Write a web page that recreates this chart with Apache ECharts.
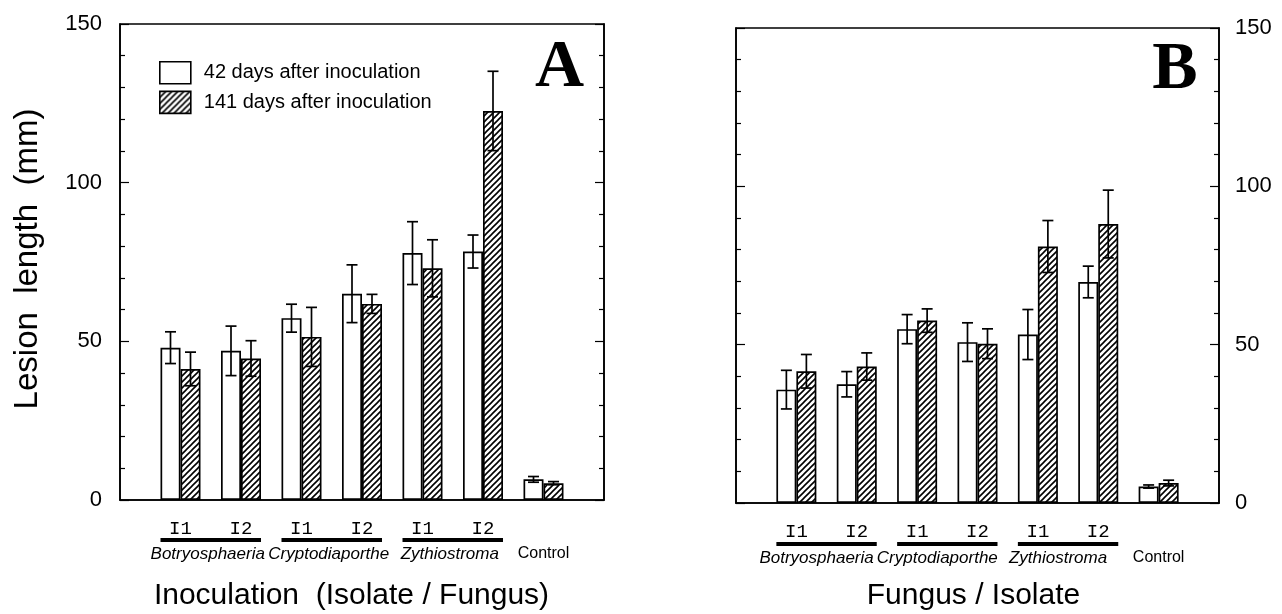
<!DOCTYPE html>
<html><head><meta charset="utf-8">
<script src="https://cdn.jsdelivr.net/npm/echarts@6/dist/echarts.min.js"></script>
<style>html,body{margin:0;padding:0;background:#fff}#c{width:1282px;height:614px}</style>
</head><body><div id="c"></div>
<script>
// ---------- data ----------
const slots = ['Botryosphaeria I1','Botryosphaeria I2','Cryptodiaporthe I1','Cryptodiaporthe I2','Zythiostroma I1','Zythiostroma I2','Control'];
const isolateLabels = ['I1','I2','I1','I2','I1','I2',''];
const genera = ['Botryosphaeria','Cryptodiaporthe','Zythiostroma'];
const controlLabel = 'Control';
const seriesNames = ['42 days after inoculation','141 days after inoculation'];
const yMin = 0, yMax = 150, yStep = 50;

const a42     = [48.0, 47.0, 57.3, 65.0, 77.8, 78.3, 6.5];
const a42err  = [5.0, 7.8, 4.4, 9.1, 9.9, 5.2, 0.9];
const a141    = [41.3, 44.6, 51.4, 61.8, 73.0, 122.6, 5.3];
const a141err = [5.3, 5.6, 9.3, 3.0, 9.0, 12.5, 0.5];
const b42     = [35.8, 37.5, 54.9, 50.8, 53.2, 69.8, 5.2];
const b42err  = [6.1, 4.0, 4.6, 6.1, 7.9, 5.0, 0.5];
const b141    = [41.6, 43.1, 57.6, 50.3, 81.0, 88.1, 6.3];
const b141err = [5.3, 4.3, 3.7, 4.7, 8.2, 10.7, 0.9];

const titleA = 'Inoculation  (Isolate / Fungus)';
const titleB = 'Fungus / Isolate';
const yTitle = 'Lesion  length  (mm)';

// ---------- helpers ----------
const SANS = 'Liberation Sans, Arial, Helvetica, sans-serif';
const cats = ['_start'].concat(slots, ['_end']);
const labelOf = ['', ...isolateLabels, ''];
const pad = arr => ['-', ...arr, '-'];
const errData = (v, e) => v.map((val, i) => [i + 1, val, e[i]]);

function makeHatch() {
  const s = 6, c = document.createElement('canvas');
  c.width = s; c.height = s;
  const ctx = c.getContext('2d');
  ctx.fillStyle = '#fff'; ctx.fillRect(0, 0, s, s);
  ctx.strokeStyle = '#000'; ctx.lineWidth = 1.6;
  ctx.beginPath();
  ctx.moveTo(0, s); ctx.lineTo(s, 0);
  ctx.moveTo(-1, 1); ctx.lineTo(1, -1);
  ctx.moveTo(s - 1, s + 1); ctx.lineTo(s + 1, s - 1);
  ctx.stroke();
  return c;
}
const hatch = { image: makeHatch(), repeat: 'repeat' };

function errRender(offset) {
  return function (params, api) {
    const x = api.value(0), v = api.value(1), e = api.value(2);
    const t = api.coord([x, v + e]), b = api.coord([x, v - e]);
    const cx = t[0] + offset, hw = 5.5;
    const st = { stroke: '#000', lineWidth: 1.7 };
    return { type: 'group', children: [
      { type: 'line', shape: { x1: cx, y1: t[1], x2: cx, y2: b[1] }, style: st },
      { type: 'line', shape: { x1: cx - hw, y1: t[1], x2: cx + hw, y2: t[1] }, style: st },
      { type: 'line', shape: { x1: cx - hw, y1: b[1], x2: cx + hw, y2: b[1] }, style: st }
    ]};
  };
}

function xAx(g) {
  return {
    gridIndex: g, type: 'category', data: cats, boundaryGap: false,
    axisLine: { lineStyle: { color: '#000', width: 1.6 } },
    axisTick: { show: false },
    splitLine: { show: false },
    axisLabel: { interval: 0, formatter: (v, i) => labelOf[i], fontFamily: 'Liberation Mono, Courier New, monospace',
      fontSize: 19, color: '#000', margin: 19 }
  };
}
function yAx(g, pos, showLabel, margin) {
  return {
    gridIndex: g, type: 'value', position: pos, min: yMin, max: yMax, interval: yStep,
    axisLine: { show: true, lineStyle: { color: '#000', width: 1.6 } },
    axisTick: { show: true, inside: true, length: 9, lineStyle: { color: '#000', width: 1.2 } },
    minorTick: { show: true, splitNumber: 5, length: 5, lineStyle: { color: '#000', width: 1.2 } },
    splitLine: { show: false }, minorSplitLine: { show: false },
    axisLabel: { show: showLabel, fontSize: 22, fontFamily: SANS, color: '#000', margin: margin }
  };
}
function bars(name, data, xi, yi, fill) {
  return { type: 'bar', name, data: pad(data), xAxisIndex: xi, yAxisIndex: yi,
    barWidth: 20, barGap: '0%', z: 2,
    itemStyle: { color: fill, borderColor: '#000', borderWidth: 1.7 } };
}
function errs(v, e, xi, yi, off) {
  return { type: 'custom', data: errData(v, e), xAxisIndex: xi, yAxisIndex: yi, z: 5,
    renderItem: errRender(off), silent: true };
}

const chart = echarts.init(document.getElementById('c'), null, { renderer: 'canvas' });
chart.setOption({
  animation: false,
  backgroundColor: '#fff',
  grid: [
    { left: 120, top: 24, width: 484, height: 476, show: true, borderColor: '#000', borderWidth: 1.6 },
    { left: 736, top: 28, width: 483, height: 475, show: true, borderColor: '#000', borderWidth: 1.6 }
  ],
  xAxis: [xAx(0), xAx(1)],
  yAxis: [yAx(0, 'left', true, 18), yAx(0, 'right', false, 0), yAx(1, 'left', false, 0), yAx(1, 'right', true, 16)],
  legend: {
    data: seriesNames, orient: 'vertical', left: 159, top: 61, padding: 0,
    itemWidth: 31, itemHeight: 22, itemGap: 6, icon: 'rect', selectedMode: false,
    itemStyle: { borderColor: '#000', borderWidth: 1.6 },
    textStyle: { fontSize: 20, fontFamily: SANS, color: '#000', padding: [0, 0, 0, 8] }
  },
  series: [
    bars(seriesNames[0], a42, 0, 0, '#fff'),
    bars(seriesNames[1], a141, 0, 0, hatch),
    errs(a42, a42err, 0, 0, -10),
    errs(a141, a141err, 0, 0, 10),
    bars(seriesNames[0], b42, 1, 2, '#fff'),
    bars(seriesNames[1], b141, 1, 2, hatch),
    errs(b42, b42err, 1, 2, -10),
    errs(b141, b141err, 1, 2, 10)
  ]
});

// ---------- annotations positioned via axis scale ----------
function panelGraphics(xi, lineY, genusY, genusOffset, titleX, title) {
  const px = i => chart.convertToPixel({ xAxisIndex: xi }, i);
  const out = [];
  genera.forEach((g, k) => {
    const i1 = 1 + 2 * k, i2 = 2 + 2 * k;
    const x1 = px(i1) - 20, x2 = px(i2) + 20;
    out.push({ type: 'rect', shape: { x: x1, y: lineY - 2, width: x2 - x1, height: 4 }, style: { fill: '#000' } });
    out.push({ type: 'text', x: (px(i1) + px(i2)) / 2 + genusOffset, y: genusY,
      style: { text: g, fontSize: 17, fontStyle: 'italic', fontFamily: SANS, fill: '#000', align: 'center', verticalAlign: 'middle' } });
  });
  out.push({ type: 'text', x: px(slots.length), y: genusY,
    style: { text: controlLabel, fontSize: 16, fontFamily: SANS, fill: '#000', align: 'center', verticalAlign: 'middle' } });
  out.push({ type: 'text', x: titleX, y: 596,
    style: { text: title, fontSize: 30, fontFamily: SANS, fill: '#000', align: 'center', verticalAlign: 'middle' } });
  return out;
}
const g = [].concat(
  panelGraphics(0, 540, 554, -3, 351.5, titleA),
  panelGraphics(1, 544, 558, -10, 973.5, titleB),
  [
    { type: 'text', x: 28, y: 259, rotation: Math.PI / 2,
      style: { text: yTitle, fontSize: 33, fontFamily: SANS, fill: '#000', align: 'center', verticalAlign: 'middle' } },
    { type: 'text', x: 559.5, y: 68.5,
      style: { text: 'A', fontSize: 68, fontWeight: 'bold', fontFamily: 'Liberation Serif, Times New Roman, serif', fill: '#000', align: 'center', verticalAlign: 'middle' } },
    { type: 'text', x: 1175, y: 70.5,
      style: { text: 'B', fontSize: 68, fontWeight: 'bold', fontFamily: 'Liberation Serif, Times New Roman, serif', fill: '#000', align: 'center', verticalAlign: 'middle' } }
  ]
);
chart.setOption({ graphic: g });
</script>
</body></html>
